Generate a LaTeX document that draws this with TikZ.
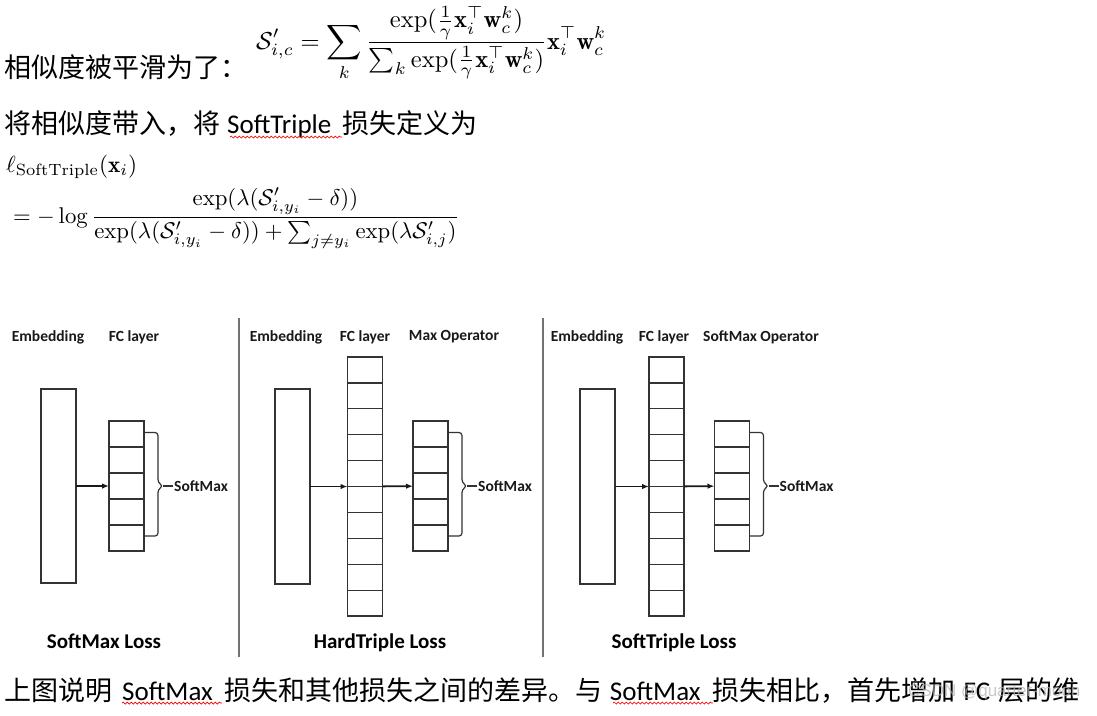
\documentclass[tikz,border=0pt]{standalone}
\usepackage{amsmath, amssymb}
\usepackage{graphicx}
\usepackage{fontspec}
\usetikzlibrary{calc, arrows.meta, decorations.pathmorphing}
\newfontfamily\cjk{Noto Sans CJK SC}
\newfontfamily\cali{Carlito}
\newfontfamily\wmfont{Liberation Sans}

\tikzset{
  box/.style={draw=black!80, line width=1.2pt, fill=white, minimum width=35pt,
    inner sep=0pt, outer sep=0pt},
  lbl/.style={font=\cali\bfseries\fontsize{15.5}{18}\selectfont, text=black!90, inner sep=1pt},
  losstitle/.style={font=\cali\bfseries\fontsize{21}{24}\selectfont, inner sep=0pt, anchor=base},
  para/.style={font=\cjk\fontsize{27}{30}\selectfont, anchor=base west, inner sep=0pt},
  arr/.style={-{Latex[length=7pt,width=5.5pt]}, line width=1.8pt, black!90},
  sepline/.style={draw=black!55, line width=1.6pt},
  brace/.style={draw=black!80, line width=1.2pt, rounded corners=3pt},
  spell/.style={red, line width=0.7pt, decorate,
    decoration={snake, amplitude=1pt, segment length=4pt}}
}

\begin{document}
\begin{tikzpicture}[x=1pt, y=-1pt]
      \fill[white] (0,0) rectangle (1097,715);
      \useasboundingbox (0,0) rectangle (1097,715);

      % 1. 上方文字与公式
      \node[para] (t1) at (4,77) {相似度被平滑为了：};
      \node[anchor=base west, inner sep=0pt] (f1) at (256,49)
        {\resizebox{350pt}{!}{$\displaystyle \mathcal{S}'_{i,c} = \sum_k
        \frac{\exp(\frac{1}{\gamma}\mathbf{x}_i^\top \mathbf{w}_c^k)}
        {\sum_k \exp(\frac{1}{\gamma}\mathbf{x}_i^\top \mathbf{w}_c^k)}
        \mathbf{x}_i^\top \mathbf{w}_c^k$}};
      \node[para] (t2) at (4,133)
        {将相似度带入，将\hspace{7pt}{\cali SoftTriple}\hspace{11pt}损失定义为};
      \draw[spell] (230,137) -- (342,137);
      \node[anchor=base west, inner sep=0pt] (f2) at (6,172)
        {\resizebox{131pt}{!}{$\ell_{\mathrm{SoftTriple}}(\mathbf{x}_i)$}};
      \node[anchor=base west, inner sep=0pt] (f3) at (13,223)
        {\resizebox{446pt}{!}{$\displaystyle = -\log
        \frac{\exp(\lambda(\mathcal{S}'_{i,y_i}-\delta))}
        {\exp(\lambda(\mathcal{S}'_{i,y_i}-\delta)) + \sum_{j\neq y_i}\exp(\lambda\mathcal{S}'_{i,j})}$}};

      % 2. 三个面板之间的分隔线
      \draw[sepline] (239,318) -- (239,657);
      \draw[sepline] (543,318) -- (543,657);

      % 3. SoftMax Loss
      \node[box, minimum height=194pt] (embA) at (58.5,486) {};
      \node[box, minimum height=130pt] (fcA) at (126.5,486) {};
      \node[lbl] (hdEmbA) at (48,337) {Embedding};
      \node[lbl] (hdFcA) at (134,337) {FC layer};
      \node[losstitle] (lossA) at (104,648) {SoftMax Loss};
      \draw[arr] (embA) -- (fcA);

      % 4. HardTriple Loss
      \node[box, minimum height=195pt] (embB) at (292.5,486.5) {};
      \node[box, minimum height=259pt] (fcB) at (365,486.5) {};
      \node[box, minimum height=130pt] (opB) at (430.5,486) {};
      \node[lbl] (hdEmbB) at (286,337) {Embedding};
      \node[lbl] (hdFcB) at (365,337) {FC layer};
      \node[lbl] (hdOpB) at (454,337) {Max Operator};
      \node[losstitle] (lossB) at (380,648) {HardTriple Loss};
      \draw[arr] (embB) -- (fcB);
      \draw[arr] (fcB) -- (opB);

      % 5. SoftTriple Loss
      \node[box, minimum height=195pt] (embC) at (597.5,486.5) {};
      \node[box, minimum height=259pt] (fcC) at (666.5,486.5) {};
      \node[box, minimum height=130pt] (opC) at (732,486) {};
      \node[lbl] (hdEmbC) at (587,337) {Embedding};
      \node[lbl] (hdFcC) at (664,337) {FC layer};
      \node[lbl] (hdOpC) at (761,337) {SoftMax Operator};
      \node[losstitle] (lossC) at (674,648) {SoftTriple Loss};
      \draw[arr] (embC) -- (fcC);
      \draw[arr] (fcC) -- (opC);

      % 6. 格子分割线
      \foreach \b in {fcA, opB, opC}
        \foreach \i in {1,...,4}
          \draw[black!80, line width=1.2pt]
            ($(\b.north west)!\i/5!(\b.south west)$) -- ($(\b.north east)!\i/5!(\b.south east)$);
      \foreach \b in {fcB, fcC}
        \foreach \i in {1,...,9}
          \draw[black!80, line width=1.2pt]
            ($(\b.north west)!\i/10!(\b.south west)$) -- ($(\b.north east)!\i/10!(\b.south east)$);

      % 7. 右括号与 SoftMax 标签
      \foreach \b/\s in {fcA/smA, opB/smB, opC/smC} {
        \draw[brace] ([yshift=-11.5pt]\b.north east) -- ++(14,0) -- ++(0,50)
          -- ++(5,3.5) coordinate (tip\s) -- ++(-5,3.5) -- ++(0,46.5) -- ++(-14,0);
        \node[lbl, anchor=west] (\s) at ($(tip\s)+(10,0)$) {SoftMax};
        \draw[black!80, line width=1.2pt] (tip\s) -- (\s.west);
      }

      % 8. 下方文字
      \node[para] (t3) at (4,700)
        {上图说明\hspace{10pt}{\cali SoftMax}\hspace{12pt}损失和其他损失之间的差异。与\hspace{7pt}{\cali SoftMax}\hspace{12pt}损失相比，首先增加\hspace{8pt}{\cali FC}\hspace{8pt}层的维};
      \draw[spell] (122,703) -- (222,703);
      \draw[spell] (613,703) -- (713,703);
      \node[anchor=west, inner sep=0pt, text=black!30, opacity=0.7,
        font=\wmfont\fontsize{17}{20}\selectfont] (wm) at (908,692) {CSDN @quarter-moon};
    \end{tikzpicture}
\end{document}
